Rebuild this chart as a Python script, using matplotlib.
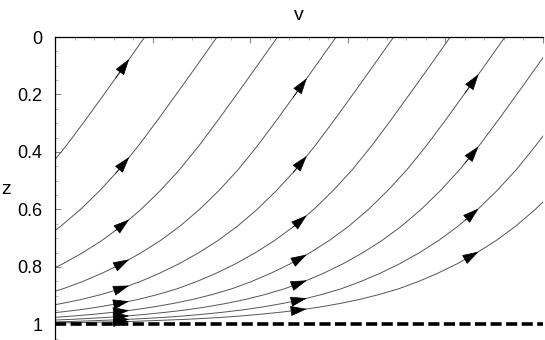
import numpy as np
import matplotlib
matplotlib.use("Agg")
import matplotlib.pyplot as plt
from matplotlib.ticker import MultipleLocator

plt.rcParams['font.family'] = ['Liberation Sans', 'DejaVu Sans']
plt.rcParams['lines.scale_dashes'] = False

# base streamline: s = v - v_top (v where the line hits z = 0)
s_base = [-7.0, -6.5, -6.0, -5.5, -5.0, -4.8, -4.6, -4.4, -4.2, -4.0,
          -3.8, -3.6, -3.4, -3.2, -3.0, -2.8, -2.6, -2.4, -2.2, -2.0,
          -1.8, -1.6, -1.4, -1.2, -1.0, -0.8, -0.6, -0.4, -0.2, 0.0]
z_base = [0.9972, 0.9956, 0.993, 0.989, 0.9825, 0.979, 0.975, 0.970, 0.964, 0.957,
          0.949, 0.939, 0.927, 0.913, 0.896, 0.876, 0.851, 0.822, 0.789, 0.751,
          0.708, 0.658, 0.600, 0.534, 0.460, 0.376, 0.285, 0.191, 0.096, 0.0]

# where each streamline reaches z = 0 (v value)
v_top = [0.92, 1.66, 2.28, 2.88, 3.47, 4.05, 4.61, 5.15, 5.73, 6.32]

# arrow columns (v)
arrow_v = [0.69, 2.51, 4.27]

s_base = np.array(s_base)
z_base = np.array(z_base)

fig = plt.figure(figsize=(5.45, 3.4), dpi=100)
ax = fig.add_axes([55/545, 0, 488/545, 1 - 37/340])

for T in v_top:
    ax.plot(s_base + T, z_base, color='#555555', lw=0.7, clip_on=True)
    for va in arrow_v:
        s = va - T
        if s >= -0.05:
            continue
        z1 = np.interp(s - 0.07, s_base, z_base)
        z2 = np.interp(s + 0.07, s_base, z_base)
        ax.annotate('', xy=(va + 0.07, z2), xytext=(va - 0.07, z1),
                    arrowprops=dict(arrowstyle='-|>,head_length=1.05,head_width=0.33',
                                    mutation_scale=10, color='black', lw=0.5,
                                    shrinkA=0, shrinkB=0))

ax.axhline(1.0, color='black', lw=2.6, dashes=(8, 3.2))

ax.set_xlim(0, 5)
ax.set_ylim(1.054, 0)

ax.xaxis.set_major_locator(MultipleLocator(1))
ax.xaxis.set_minor_locator(MultipleLocator(0.2))
ax.yaxis.set_major_locator(MultipleLocator(0.2))
ax.yaxis.set_minor_locator(MultipleLocator(0.05))
ax.set_yticks([0, 0.2, 0.4, 0.6, 0.8, 1.0])
ax.set_yticklabels(['0', '0.2', '0.4', '0.6', '0.8', '1'])
ax.xaxis.tick_top()
ax.tick_params(axis='x', which='both', labeltop=False, labelbottom=False)
ax.tick_params(which='major', direction='in', length=4, width=0.8, color='#888888')
ax.tick_params(which='minor', direction='in', length=2.5, width=0.6, color='#aaaaaa')
ax.tick_params(axis='y', which='major', labelsize=13, pad=9)

ax.spines['right'].set_visible(False)
ax.spines['bottom'].set_visible(False)
ax.spines['top'].set_linewidth(0.9)
ax.spines['left'].set_linewidth(0.9)

fig.text(299/545, 1 - 15/340, 'v', fontsize=14, ha='center', va='center')
fig.text(1/545, 1 - 190/340, 'z', fontsize=14, ha='left', va='center')

fig.savefig('out.png', dpi=100)
